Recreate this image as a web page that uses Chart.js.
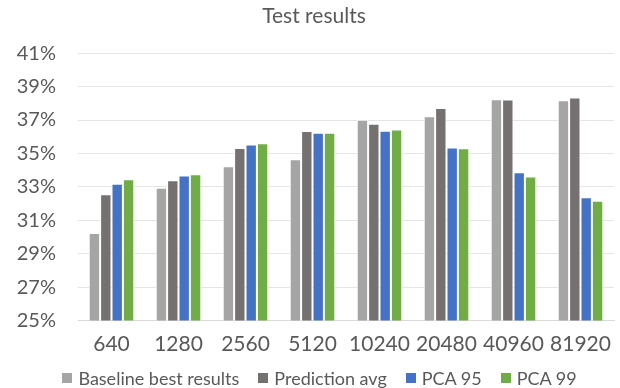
<!DOCTYPE html>
<html>
<head>
<meta charset="utf-8">
<script src="https://cdn.jsdelivr.net/npm/chart.js@4.4.1/dist/chart.umd.min.js"></script>
<style>
  html, body { margin: 0; padding: 0; background: #ffffff; }
  #wrap { position: relative; width: 620px; height: 388px; }
  #chart { position: absolute; left: 0; top: 0; }
  #legend {
    position: absolute; left: 0; top: 366px; width: 620px; box-sizing: border-box;
    padding-left: 19px;
    display: flex; justify-content: center; align-items: center;
    font-family: Lato, "Open Sans", sans-serif; font-size: 18px; line-height: 24px;
    color: #595959; white-space: nowrap;
  }
  .item { display: flex; align-items: center; margin: 0 9.5px; }
  .swatch { width: 10px; height: 10px; margin-right: 6px; }
</style>
</head>
<body>
<div id="wrap">
  <canvas id="chart" width="620" height="388"></canvas>
  <div id="legend"></div>
</div>
<script>
// Dataset sizes along the x axis
const categories = ['640', '1280', '2560', '5120', '10240', '20480', '40960', '81920'];

// Accuracy (%) per configuration
const baselineBest = [30.24, 32.95, 34.23, 34.65, 37.01, 37.22, 38.25, 38.19];
const predictionAvg = [32.56, 33.39, 35.33, 36.34, 36.77, 37.72, 38.23, 38.35];
const pca95 = [33.19, 33.68, 35.53, 36.24, 36.36, 35.35, 33.88, 32.38];
const pca99 = [33.46, 33.76, 35.61, 36.24, 36.44, 35.31, 33.62, 32.17];

// Series names and colours
const seriesNames = ['Baseline best results', 'Prediction avg', 'PCA 95', 'PCA 99'];
const seriesColors = ['#A5A5A5', '#767171', '#4472C4', '#70AD47'];

// Y axis range and step
const yMin = 25;
const yMax = 41;
const yStep = 2;

const textColor = '#595959';
const fontFamily = 'Lato, "Open Sans", sans-serif';

const seriesValues = [baselineBest, predictionAvg, pca95, pca99];

const chart = new Chart(document.getElementById('chart'), {
  type: 'bar',
  data: {
    labels: categories,
    datasets: seriesNames.map(function (name, i) {
      return {
        label: name,
        data: seriesValues[i],
        backgroundColor: seriesColors[i],
        borderColor: '#ffffff',
        borderWidth: 1,
        barPercentage: 1.0,
        categoryPercentage: 0.68
      };
    })
  },
  options: {
    responsive: false,
    animation: false,
    layout: { padding: { left: 14, right: 6, top: 0, bottom: 27.5 } },
    plugins: {
      title: {
        display: true,
        text: 'Test results',
        color: textColor,
        font: { family: fontFamily, size: 21, weight: 'normal' },
        padding: { top: 4, bottom: 24 }
      },
      legend: { display: false },
      tooltip: { enabled: false }
    },
    scales: {
      x: {
        grid: { display: false },
        border: { color: '#D9D9D9' },
        ticks: {
          color: textColor,
          font: { family: fontFamily, size: 21, lineHeight: 1.0 },
          padding: 5.5
        }
      },
      y: {
        min: yMin,
        max: yMax,
        border: { display: false },
        grid: { color: '#E5E5E5', lineWidth: 1, drawTicks: false },
        afterFit: function (scale) { scale.width = 64; },
        ticks: {
          stepSize: yStep,
          color: textColor,
          padding: 22,
          font: { family: fontFamily, size: 20 },
          callback: function (v) { return v + '%'; }
        }
      }
    }
  }
});

// Legend row built from the chart's own datasets
const legendEl = document.getElementById('legend');
chart.data.datasets.forEach(function (ds) {
  const item = document.createElement('span');
  item.className = 'item';
  const sw = document.createElement('span');
  sw.className = 'swatch';
  sw.style.background = ds.backgroundColor;
  const txt = document.createElement('span');
  txt.textContent = ds.label;
  item.appendChild(sw);
  item.appendChild(txt);
  legendEl.appendChild(item);
});
</script>
</body>
</html>
